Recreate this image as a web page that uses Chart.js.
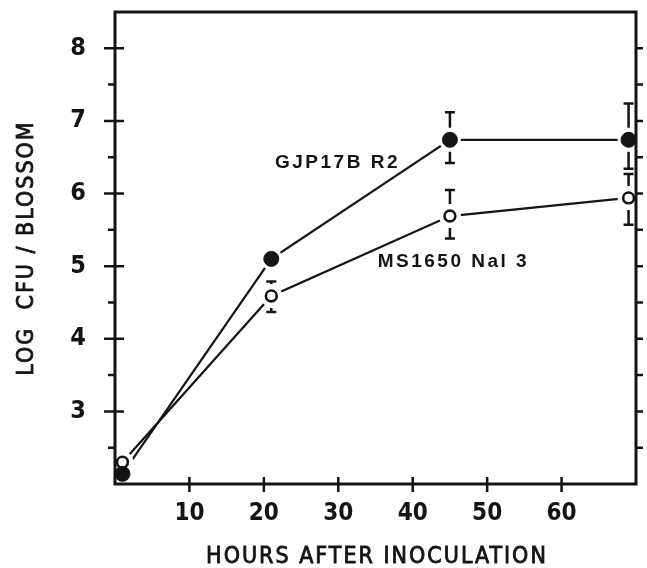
<!DOCTYPE html>
<html>
<head>
<meta charset="utf-8">
<script src="https://cdn.jsdelivr.net/npm/chart.js@4.4.1/dist/chart.umd.min.js"></script>
<style>
  html, body { margin: 0; padding: 0; background: #fff; }
  canvas { display: block; }
</style>
</head>
<body>
<canvas id="c" width="647" height="568"></canvas>
<script>
// Sampling times (hours after inoculation)
const hours = [1, 21, 45, 69];

// GJP17B R2 (filled circles): mean log CFU per blossom and error limits
const gjpMean  = [2.14, 5.10, 6.74, 6.74];
const gjpUpper = [null, null, 7.12, 7.24];
const gjpLower = [null, null, 6.42, 6.34];

// MS1650 Nal 3 (open circles)
const msMean  = [2.30, 4.59, 5.69, 5.94];
const msUpper = [null, 4.79, 6.05, 6.27];
const msLower = [null, 4.37, 5.38, 5.57];

const seriesNames = ['GJP17B R2', 'MS1650 Nal 3'];

// Axis ticks
const yTickValues = [3, 4, 5, 6, 7, 8];
const yMinorValues = [2.5, 3.5, 4.5, 5.5, 6.5, 7.5];
const rightTickValues = [2.5, 3, 3.5, 4, 4.5, 5, 5.5, 6, 6.5, 7, 7.5, 8];
const xTickValues = [10, 20, 30, 40, 50, 60];

const xTitle = 'HOURS AFTER INOCULATION';
const yTitle = 'LOG  CFU / BLOSSOM';

const INK = '#141414';
const tickFont = '"DejaVu Sans Condensed", "DejaVu Sans", sans-serif';
const labelFont = '"Liberation Sans", Arial, sans-serif';

const pts = (ys) => hours.map((h, i) => ({ x: h, y: ys[i] }));

// Frame, hand-style ticks, error bars, series labels and axis titles
const decor = {
  id: 'decor',
  afterDatasetsDraw(chart) {
    const { ctx, scales: { x, y } } = chart;
    ctx.save();
    ctx.strokeStyle = INK;
    ctx.lineWidth = 2.5;
    const bars = [[gjpMean, gjpUpper, gjpLower], [msMean, msUpper, msLower]];
    bars.forEach(([m, u, l]) => {
      hours.forEach((h, i) => {
        const px = x.getPixelForValue(h);
        const py = y.getPixelForValue(m[i]);
        [[u[i], -1], [l[i], 1]].forEach(([v, dir]) => {
          if (v == null) return;
          const ey = y.getPixelForValue(v);
          ctx.beginPath();
          ctx.moveTo(px, py + dir * 12);
          ctx.lineTo(px, ey);
          ctx.moveTo(px - 5, ey);
          ctx.lineTo(px + 5, ey);
          ctx.stroke();
        });
      });
    });
    ctx.restore();
  },
  afterDraw(chart) {
    const { ctx, chartArea: a, scales: { x, y } } = chart;
    ctx.save();
    ctx.strokeStyle = INK;
    ctx.lineWidth = 3;
    ctx.lineCap = 'square';
    // box
    ctx.beginPath();
    ctx.moveTo(a.left, a.bottom);
    ctx.lineTo(a.left, a.top);
    ctx.lineTo(a.right, a.top);
    ctx.lineTo(a.right, a.bottom);
    ctx.closePath();
    ctx.stroke();

    ctx.lineWidth = 2.5;
    ctx.lineCap = 'butt';
    ctx.beginPath();
    yTickValues.forEach(v => {
      const py = y.getPixelForValue(v);
      ctx.moveTo(a.left - 11, py); ctx.lineTo(a.left + 9, py);
    });
    yMinorValues.forEach(v => {
      const py = y.getPixelForValue(v);
      ctx.moveTo(a.left - 7, py); ctx.lineTo(a.left, py);
    });
    rightTickValues.forEach(v => {
      const py = y.getPixelForValue(v);
      ctx.moveTo(a.right, py); ctx.lineTo(a.right + 7, py);
    });
    xTickValues.forEach(v => {
      const px = x.getPixelForValue(v);
      ctx.moveTo(px, a.bottom - 7); ctx.lineTo(px, a.bottom + 8);
    });
    ctx.stroke();

    // series labels
    ctx.fillStyle = INK;
    ctx.font = 'bold 19px ' + labelFont;
    ctx.letterSpacing = '2.5px';
    ctx.textAlign = 'left';
    ctx.textBaseline = 'alphabetic';
    ctx.fillText(seriesNames[0], x.getPixelForValue(21.5), y.getPixelForValue(6.35));
    ctx.fillText(seriesNames[1], x.getPixelForValue(35.3), y.getPixelForValue(4.99));

    // axis titles
    ctx.font = '23px ' + tickFont;
    ctx.letterSpacing = '2px';
    ctx.lineWidth = 0.8;
    ctx.textAlign = 'center';
    ctx.textBaseline = 'alphabetic';
    ctx.fillText(xTitle, 377, 563);
    ctx.strokeText(xTitle, 377, 563);
    ctx.translate(33, (a.top + a.bottom) / 2);
    ctx.rotate(-Math.PI / 2);
    ctx.fillText(yTitle, 0, 0);
    ctx.strokeText(yTitle, 0, 0);
    ctx.restore();
  }
};

new Chart(document.getElementById('c'), {
  type: 'line',
  data: {
    datasets: [
      { data: pts(gjpMean), borderColor: INK, borderWidth: 2.2, pointRadius: 0, order: 3 },
      { data: pts(msMean), borderColor: INK, borderWidth: 2.2, pointRadius: 0, order: 3 },
      // white halo around each marker so the connecting lines stop short of it
      { data: pts(gjpMean).concat(pts(msMean)), showLine: false, pointRadius: 11,
        pointBackgroundColor: '#fff', pointBorderWidth: 0, order: 2, clip: false },
      { data: pts(gjpMean), showLine: false, pointRadius: 7.5,
        pointBackgroundColor: INK, pointBorderColor: INK, pointBorderWidth: 1, order: 1, clip: false },
      { data: pts(msMean), showLine: false, pointRadius: 5.4,
        pointBackgroundColor: '#fff', pointBorderColor: INK, pointBorderWidth: 2.6, order: 1, clip: false }
    ]
  },
  options: {
    responsive: false,
    animation: false,
    devicePixelRatio: 1,
    layout: { padding: { top: 12, right: 11, left: 0, bottom: 0 } },
    plugins: { legend: { display: false }, tooltip: { enabled: false } },
    scales: {
      x: {
        type: 'linear', min: 0, max: 70,
        grid: { display: false, drawTicks: false },
        border: { display: false },
        afterBuildTicks: s => { s.ticks = xTickValues.map(v => ({ value: v })); },
        afterFit: s => { s.height = 84; s.paddingLeft = 0; s.paddingRight = 0; },
        ticks: { color: INK, padding: 15, font: { family: tickFont, size: 24, weight: 'bold' } }
      },
      y: {
        type: 'linear', min: 2, max: 8.5,
        grid: { display: false, drawTicks: false },
        border: { display: false },
        afterBuildTicks: s => { s.ticks = yTickValues.map(v => ({ value: v })); },
        afterFit: s => { s.width = 115; s.paddingTop = 0; s.paddingBottom = 0; },
        ticks: { color: INK, padding: 29, font: { family: tickFont, size: 25, weight: 'bold' } }
      }
    }
  },
  plugins: [decor]
});
</script>
</body>
</html>
